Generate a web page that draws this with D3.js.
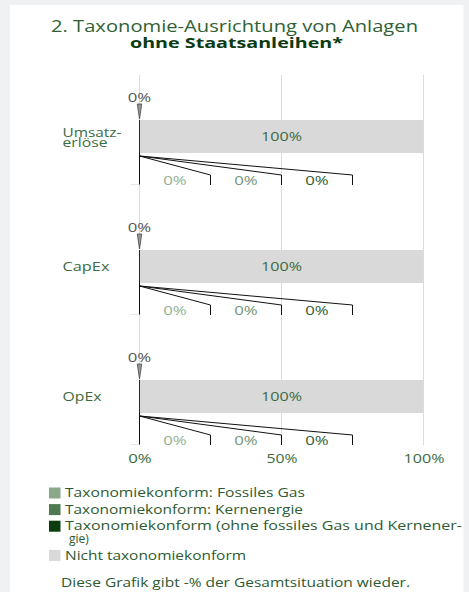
<!DOCTYPE html>
<html><head><meta charset="utf-8">
<script src="https://cdn.jsdelivr.net/npm/d3@7"></script>
<style>
html,body{margin:0;padding:0;background:#f0f1f3;}
svg{display:block;}
text{font-family:"Open Sans","Noto Sans",sans-serif;}
</style></head><body>
<script>
// ---- data ----
const categories = ["Umsatzerlöse", "CapEx", "OpEx"];
const categoryLines = [["Umsatz-", "erlöse"], ["CapEx"], ["OpEx"]];
const fossilGas = [0, 0, 0];
const nuclear = [0, 0, 0];
const alignedOther = [0, 0, 0];
const notAligned = [100, 100, 100];
const xTicks = [0, 50, 100];
const legendLabels = [
  ["Taxonomiekonform: Fossiles Gas"],
  ["Taxonomiekonform: Kernenergie"],
  ["Taxonomiekonform (ohne fossiles Gas und Kernener-", "gie)"],
  ["Nicht taxonomiekonform"]
];
const titleLines = ["2. Taxonomie-Ausrichtung von Anlagen", "ohne Staatsanleihen*"];
const footer = "Diese Grafik gibt -% der Gesamtsituation wieder.";

// ---- styles / layout ----
const colGas = "#8aa88a", colNuc = "#4e7a52", colDark = "#0b3d0e", colNot = "#d9d9d9";
const textGreen = "#3b6b3f";
const W = 469, H = 592;
// rendered widths of the original's wide face (px)
const textWidths = {
  "2. Taxonomie-Ausrichtung von Anlagen": 367, "ohne Staatsanleihen*": 213,
  "Taxonomiekonform: Fossiles Gas": 240, "Taxonomiekonform: Kernenergie": 238,
  "Taxonomiekonform (ohne fossiles Gas und Kernener-": 397,
  "Nicht taxonomiekonform": 181, "Diese Grafik gibt -% der Gesamtsituation wieder.": 349,
  "Umsatz-": 59, "erlöse": 45, "CapEx": 47, "OpEx": 39,
  "100%": 41, "0%": 23.5, "50%": 31
};

function fit(sel) {
  sel.each(function () {
    const t = d3.select(this).text();
    const w = textWidths[t];
    if (w) d3.select(this).attr("textLength", w).attr("lengthAdjust", "spacingAndGlyphs");
  });
  return sel;
}

const svg = d3.select("body").append("svg").attr("width", W).attr("height", H);
svg.append("rect").attr("x", 10).attr("y", 5).attr("width", 453.5).attr("height", H).attr("fill", "#fff");

// title
fit(svg.append("text").attr("x", 234.5).attr("y", 31.5).attr("text-anchor", "middle")
  .attr("font-size", 15.5).attr("fill", "#2f5f35").text(titleLines[0]));
fit(svg.append("text").attr("x", 236.5).attr("y", 48).attr("text-anchor", "middle")
  .attr("font-size", 15).attr("font-weight", 700).attr("fill", "#0b3b10").text(titleLines[1]));

const x = d3.scaleLinear().domain([0, 100]).range([139.5, 423.5]);
const y = d3.scaleBand().domain(categories).range([75, 465]).paddingInner(0).paddingOuter(0);
const barOff = 45, barH = 33;

// grid
svg.append("g").selectAll("line").data(xTicks).join("line")
  .attr("x1", d => x(d)).attr("x2", d => x(d))
  .attr("y1", 75).attr("y2", y(categories[2]) + 110)
  .attr("stroke", "#dcdcdc").attr("stroke-width", 1);

// x axis
const xAxis = d3.axisBottom(x).tickValues(xTicks).tickFormat(d => d + "%").tickSize(0).tickPadding(0);
const ax = svg.append("g").attr("transform", `translate(0,${y(categories[2]) + 123})`).call(xAxis);
ax.select(".domain").remove();
ax.selectAll("text").attr("font-size", 13).attr("fill", textGreen)
  .attr("font-family", "'Open Sans'").attr("dy", "0.35em").call(fit);

const rows = categories.map((c, i) => ({
  c, i, gas: fossilGas[i], nuc: nuclear[i], dark: alignedOther[i], not: notAligned[i]
}));

rows.forEach(r => {
  const top = y(r.c);
  const by = top + barOff;
  const gg = svg.append("g");
  // category label
  const lines = categoryLines[r.i];
  const lh = 10.5;
  lines.forEach((t, k) => {
    fit(gg.append("text").attr("x", 62.5).attr("y", by + barH / 2 + (k - (lines.length - 1) / 2) * lh + (lines.length > 1 ? 1.5 : 0))
      .attr("dy", "0.35em").attr("font-size", lines.length > 1 ? 12 : 12.5).attr("fill", textGreen).text(t));
  });
  // stacked bar
  let x0 = 0;
  const segs = [[r.gas, colGas], [r.nuc, colNuc], [r.dark, colDark], [r.not, colNot]];
  segs.forEach(([v, col]) => {
    gg.append("rect").attr("x", x(x0)).attr("y", by).attr("width", x(x0 + v) - x(x0)).attr("height", barH).attr("fill", col);
    x0 += v;
  });
  gg.append("line").attr("x1", x(0)).attr("x2", x(0)).attr("y1", by).attr("y2", by + barH)
    .attr("stroke", colDark).attr("stroke-width", 1);
  // 100% label
  fit(gg.append("text").attr("x", x(r.gas + r.nuc + r.dark + r.not / 2)).attr("y", by + barH / 2).attr("dy", "0.35em")
    .attr("text-anchor", "middle").attr("font-size", 13.5).attr("fill", textGreen).text(r.not + "%"));
  // top wedge callout
  const wx = x(r.gas + r.nuc + r.dark / 2);
  gg.append("path").attr("d", `M${wx - 2.2},${by - 16} L${wx + 2.2},${by - 16} L${wx},${by - 1} Z`)
    .attr("fill", "#9a9a9a").attr("stroke", "#444").attr("stroke-width", 0.8);
  fit(gg.append("text").attr("x", wx).attr("y", by - 23).attr("dy", "0.35em").attr("text-anchor", "middle")
    .attr("font-size", 13.5).attr("fill", "#555").text(r.dark + "%"));
  // bottom callouts
  const sy = by + barH + 3, ey = by + barH + 22, eb = by + barH + 32;
  gg.append("line").attr("x1", x(0)).attr("x2", x(0)).attr("y1", by + barH).attr("y2", eb)
    .attr("stroke", "#111").attr("stroke-width", 1);
  gg.append("line").attr("x1", x(0) - 9).attr("x2", x(0)).attr("y1", eb - 0.5).attr("y2", eb - 0.5)
    .attr("stroke", "#e6e6e6").attr("stroke-width", 1);
  const bottomVals = [[r.gas, "#93b193"], [r.nuc, "#73957a"], [r.dark, "#2f5f35"]];
  bottomVals.forEach(([v, col], k) => {
    const ex = x(25 * (k + 1));
    gg.append("path").attr("d", `M${x(0)},${sy} L${ex},${ey} L${ex},${eb}`)
      .attr("fill", "none").attr("stroke", "#111").attr("stroke-width", 1);
    fit(gg.append("text").attr("x", x(25 * k + 12.5)).attr("y", ey + 5).attr("dy", "0.35em")
      .attr("text-anchor", "middle").attr("font-size", 13.5).attr("fill", col).text(v + "%"));
  });
});

// legend
const legColors = [colGas, colNuc, colDark, colNot];
let ly = 493;
legendLabels.forEach((lines, i) => {
  svg.append("rect").attr("x", 49).attr("y", ly - 5.5).attr("width", 11.5).attr("height", 11).attr("fill", legColors[i]);
  lines.forEach((t, k) => {
    fit(svg.append("text").attr("x", k === 0 ? 65 : 69).attr("y", ly + k * 12.6).attr("dy", "0.35em")
      .attr("font-size", 12).attr("fill", "#2d5a30").text(t));
  });
  ly += (lines.length - 1) * 12.6 + 16.6;
});
fit(svg.append("text").attr("x", 61).attr("y", 583).attr("dy", "0.35em").attr("font-size", 12.5)
  .attr("fill", "#2d5a30").text(footer));
</script>
</body></html>
